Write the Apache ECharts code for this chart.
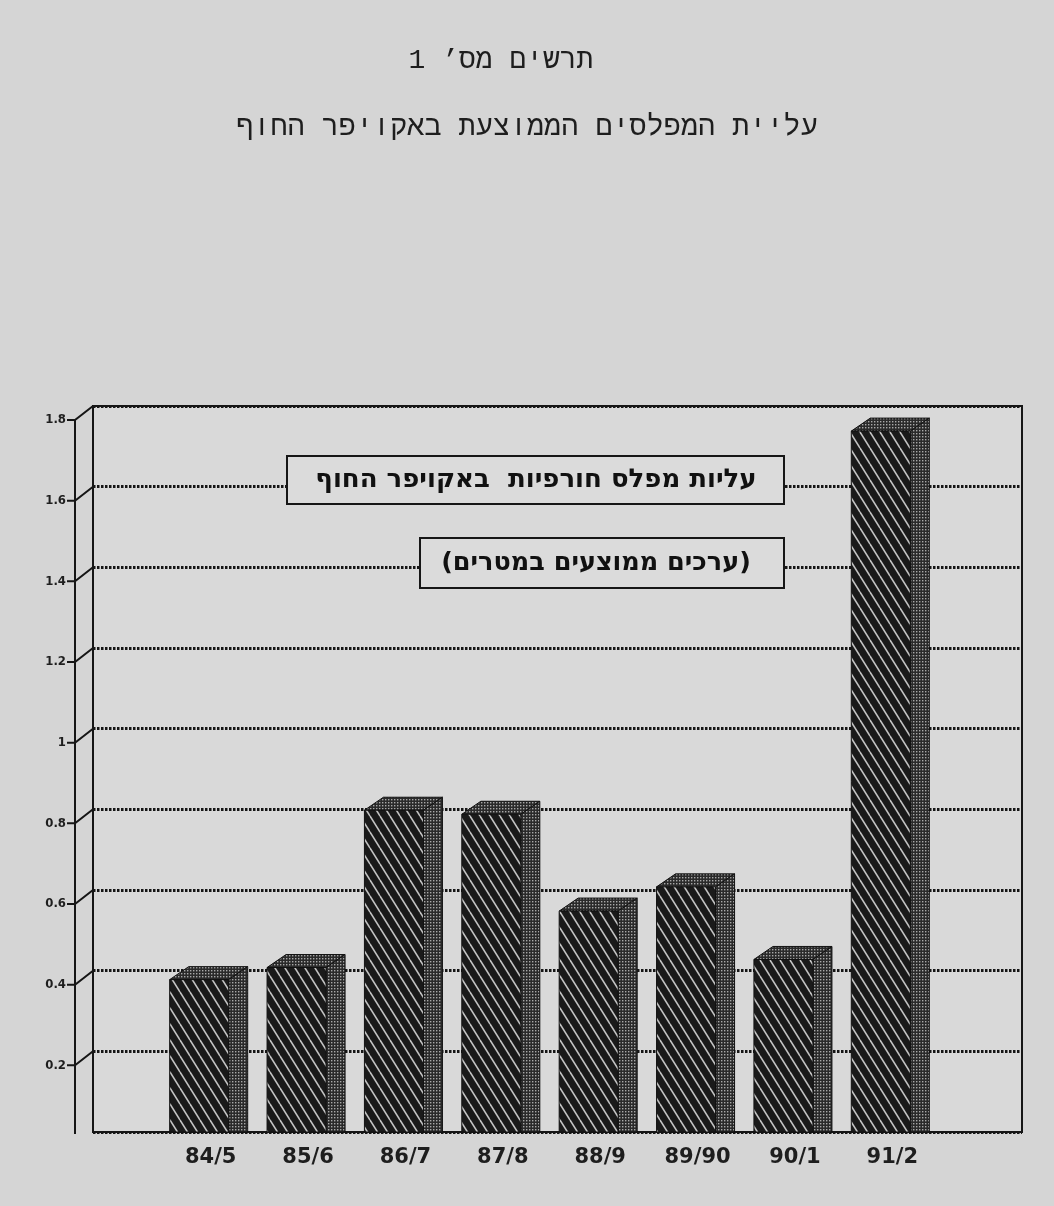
<!DOCTYPE html>
<html>
<head>
<meta charset="utf-8">
<script src="https://cdn.jsdelivr.net/npm/echarts@6/dist/echarts.min.js"></script>
<style>
  html, body { margin: 0; padding: 0; background: #d5d5d5; }
  #chart { width: 1054px; height: 1206px; }
</style>
</head>
<body>
<div id="chart"></div>
<script>
// Winter groundwater-level rise in the coastal aquifer, by hydrological year
const seasons = ['84/5', '85/6', '86/7', '87/8', '88/9', '89/90', '90/1', '91/2'];
const winterRise = [0.41, 0.44, 0.83, 0.82, 0.58, 0.64, 0.46, 1.77];
const levelTicks = [0.2, 0.4, 0.6, 0.8, 1, 1.2, 1.4, 1.6, 1.8];

const titleLines = ['תרשים מס’ 1', 'עליית המפלסים הממוצעת באקויפר החוף'];
const noteLines = ['עליות מפלס חורפיות  באקויפר החוף', '(ערכים ממוצעים במטרים)'];

// depth of the pseudo-3D bars and of the front axis plane
const DX = 19, DY = 13;
const AX_DX = 18, AX_DY = 14;
const INK = '#161616';

function hatchTile() {
  const c = document.createElement('canvas');
  c.width = 10; c.height = 16;
  const g = c.getContext('2d');
  g.fillStyle = '#1a1a1a';
  g.fillRect(0, 0, 10, 16);
  g.strokeStyle = '#c4c4c4';
  g.lineWidth = 1.6;
  for (const off of [-10, 0, 10]) {
    g.beginPath();
    g.moveTo(off, 0);
    g.lineTo(off + 10, 16);
    g.stroke();
  }
  return c;
}

function dotTile() {
  const c = document.createElement('canvas');
  c.width = 3; c.height = 3;
  const g = c.getContext('2d');
  g.fillStyle = '#2a2a2a';
  g.fillRect(0, 0, 3, 3);
  g.fillStyle = '#a8a8a8';
  g.fillRect(1, 1, 1.4, 1.4);
  return c;
}

const hatchFill = { image: hatchTile(), repeat: 'repeat' };
const dotFill = { image: dotTile(), repeat: 'repeat' };

const chart = echarts.init(document.getElementById('chart'), null, { renderer: 'canvas' });

const option = {
  backgroundColor: '#d5d5d5',
  animation: false,
  grid: [
    { left: 93, right: 32, top: 406, bottom: 74, show: true,
      backgroundColor: '#d9d9d9', borderColor: INK, borderWidth: 2 },
    { left: 162, right: 113, top: 406, bottom: 74 }
  ],
  xAxis: [
    { gridIndex: 0, type: 'value', min: 0, max: 1, show: false },
    { gridIndex: 1, type: 'category', data: seasons,
      axisLine: { show: false }, axisTick: { show: false },
      axisLabel: { margin: 15, color: '#1e1e1e', fontSize: 21, fontWeight: 'bold',
                   fontFamily: 'DejaVu Sans' } }
  ],
  yAxis: [
    { gridIndex: 0, type: 'value', min: 0, max: 1.8, interval: 0.2,
      axisLine: { show: false }, axisTick: { show: false }, axisLabel: { show: false },
      splitLine: { show: true, lineStyle: { color: INK, width: 3, type: [2.5, 1.5] } } },
    { gridIndex: 1, type: 'value', min: 0, max: 1.8, interval: 0.2, show: false,
      splitLine: { show: false } }
  ],
  graphic: [
    { type: 'text', x: 501, y: 61, z: 100,
      style: { text: titleLines[0], align: 'center', verticalAlign: 'middle',
               fill: '#1e1e1e', font: "28px 'Liberation Mono', 'DejaVu Sans Mono', monospace" } },
    { type: 'text', x: 527, y: 127, z: 100,
      style: { text: titleLines[1], align: 'center', verticalAlign: 'middle',
               fill: '#1e1e1e', font: "28.5px 'Liberation Mono', 'DejaVu Sans Mono', monospace" } },
    { type: 'rect', z: 100, shape: { x: 287, y: 456, width: 497, height: 48 },
      style: { fill: '#dbdbdb', stroke: INK, lineWidth: 2 } },
    { type: 'text', x: 536, y: 480, z: 101,
      style: { text: noteLines[0], align: 'center', verticalAlign: 'middle',
               fill: '#111', font: "bold 26px 'DejaVu Sans', 'Liberation Sans'" } },
    { type: 'rect', z: 100, shape: { x: 420, y: 538, width: 364, height: 50 },
      style: { fill: '#dbdbdb', stroke: INK, lineWidth: 2 } },
    { type: 'text', x: 596, y: 563, z: 101,
      style: { text: noteLines[1], align: 'center', verticalAlign: 'middle',
               fill: '#111', font: "bold 25.5px 'DejaVu Sans', 'Liberation Sans'" } }
  ],
  series: [
    // front axis plane: labels and short ticks joined back to the wall
    {
      type: 'custom', xAxisIndex: 0, yAxisIndex: 0, silent: true, z: 3,
      data: levelTicks.map(v => [0, v]),
      renderItem(params, api) {
        const v = api.value(1);
        const p = api.coord([0, v]);
        const fx = p[0] - AX_DX, fy = p[1] + AX_DY;
        return {
          type: 'group',
          children: [
            { type: 'polyline',
              shape: { points: [[fx - 8, fy], [fx, fy], [p[0], p[1]]] },
              style: { stroke: INK, lineWidth: 2, fill: null } },
            { type: 'text', x: fx - 9, y: fy,
              style: { text: String(+v.toFixed(1)), align: 'right', verticalAlign: 'middle',
                       fill: '#1e1e1e',
                       font: "bold 13px 'DejaVu Sans Condensed', 'DejaVu Sans'" } }
          ]
        };
      }
    },
    {
      type: 'custom', xAxisIndex: 0, yAxisIndex: 0, silent: true, z: 3,
      data: [[0, levelTicks[levelTicks.length - 1]]],
      renderItem(params, api) {
        const top = api.coord([0, api.value(1)]);
        const base = api.coord([0, 0]);
        return {
          type: 'line',
          shape: { x1: top[0] - AX_DX, y1: top[1] + AX_DY, x2: top[0] - AX_DX, y2: base[1] + 2 },
          style: { stroke: INK, lineWidth: 2 }
        };
      }
    },
    // pseudo-3D bars: hatched front, dotted top and side
    {
      type: 'custom', xAxisIndex: 1, yAxisIndex: 1, z: 5,
      data: winterRise.map((v, i) => [i, v]),
      encode: { x: 0, y: 1 },
      renderItem(params, api) {
        const i = api.value(0), v = api.value(1);
        const top = api.coord([i, v]);
        const base = api.coord([i, 0]);
        const W = api.size([1, 0])[0] * 0.606;
        const fl = top[0] - (W + DX) / 2 - 2, fr = fl + W;
        const yT = top[1], yF = top[1] + DY, yB = base[1];
        return {
          type: 'group',
          children: [
            { type: 'polygon',
              shape: { points: [[fl, yF], [fl + DX, yT], [fr + DX, yT], [fr, yF]] },
              style: { fill: dotFill, stroke: '#111', lineWidth: 1 } },
            { type: 'polygon',
              shape: { points: [[fr, yF], [fr + DX, yT], [fr + DX, yB], [fr, yB]] },
              style: { fill: dotFill, stroke: '#111', lineWidth: 1 } },
            { type: 'rect',
              shape: { x: fl, y: yF, width: W, height: yB - yF },
              style: { fill: hatchFill, stroke: '#111', lineWidth: 1 } }
          ]
        };
      }
    }
  ]
};

chart.setOption(option);
</script>
</body>
</html>
